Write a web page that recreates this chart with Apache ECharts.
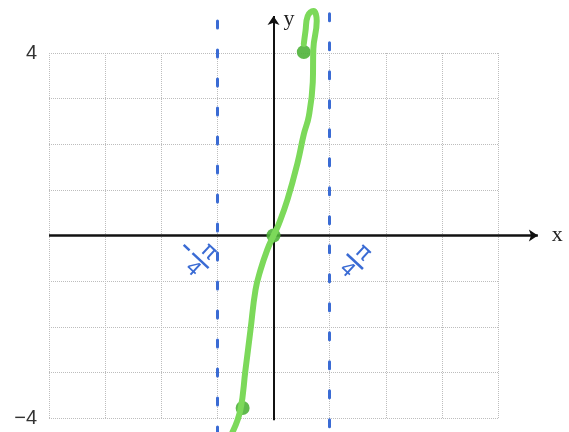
<!DOCTYPE html>
<html style="height: 100%">
<head>
    <meta charset="utf-8">
</head>
<body style="height: 100%; margin: 0; background: #fff">
<div id="container" style="width: 569px; height: 432px"></div>

<script type="text/javascript" src="https://cdn.jsdelivr.net/npm/echarts@6/dist/echarts.min.js"></script>
<script type="text/javascript">
    // x is measured in quarters of pi (one grid column = pi/4), y in plain units
    var curveX = [-0.73, -0.59, -0.50, -0.41, -0.32, -0.23, -0.11, 0, 0.09, 0.25, 0.43, 0.54, 0.63, 0.70, 0.71, 0.77, 0.71, 0.61, 0.57, 0.54];
    var curveY = [-4.31, -3.82, -2.95, -2.07, -1.19, -0.75, -0.31, 0, 0.24, 0.79, 1.60, 2.22, 2.62, 3.36, 4.09, 4.70, 4.92, 4.81, 4.48, 4.20];
    var dotX = [-0.55, 0, 0.54];
    var dotY = [-3.78, 0, 4.02];
    var asymptotes = [-1, 1];
    var yTickLabels = [-4, 4];

    var dom = document.getElementById("container");
    var myChart = echarts.init(dom);

    var curve = curveX.map(function (x, i) { return [x, curveY[i]]; });
    var dots = dotX.map(function (x, i) { return [x, dotY[i]]; });

    var option = {
        animation: false,
        grid: {left: 49, right: 71, top: 53, bottom: 14},
        xAxis: {
            type: 'value', min: -4, max: 4, interval: 1,
            axisLine: {show: false}, axisTick: {show: false}, axisLabel: {show: false},
            splitLine: {lineStyle: {color: '#bdbdbd', type: 'dotted', width: 1}}
        },
        yAxis: {
            type: 'value', min: -4, max: 4, interval: 1,
            axisLine: {show: false, onZero: false}, axisTick: {show: false},
            axisLabel: {
                margin: 12, fontSize: 20, color: '#333', fontFamily: 'Liberation Sans',
                formatter: function (v) {
                    return yTickLabels.indexOf(v) >= 0 ? String(v).replace('-', '\u2212') : '';
                }
            },
            splitLine: {lineStyle: {color: '#bdbdbd', type: 'dotted', width: 1}}
        },
        series: [
            {
                type: 'lines', coordinateSystem: 'cartesian2d', clip: false, silent: true,
                symbol: ['none', 'arrow'], symbolSize: 9,
                lineStyle: {color: '#111', width: 2.5, opacity: 1},
                data: [
                    {coords: [[-4, 0], [4.71, 0]]},
                    {coords: [[0, -4.05], [0, 4.81]], lineStyle: {width: 2}}
                ]
            },
            {
                type: 'lines', coordinateSystem: 'cartesian2d', clip: false, silent: true,
                lineStyle: {color: '#3a6bd4', width: 3, type: [7, 22], opacity: 1, cap: 'round'},
                data: asymptotes.map(function (a) {
                    return {coords: [[a, a < 0 ? 4.7 : 4.86], [a, -4.35]]};
                })
            },
            {
                type: 'line', data: curve, clip: false, smooth: 0.45, showSymbol: false,
                lineStyle: {color: '#7cd95a', width: 6, cap: 'round'}
            },
            {
                type: 'scatter', data: dots, clip: false, symbolSize: 14,
                itemStyle: {color: '#4fb23a', opacity: 0.9}
            }
        ]
    };

    myChart.setOption(option);

    // axis names and the handwritten pi/4 notes, anchored to data coordinates
    function px(x, y) { return myChart.convertToPixel({gridIndex: 0}, [x, y]); }

    function fraction(x, y, negative) {
        var p = px(x, y);
        var children = [
            {type: 'text', x: 0, y: -12, style: {text: '\u03c0', fontSize: 22, fill: '#3a6bd4', align: 'center', verticalAlign: 'middle', fontFamily: 'DejaVu Sans'}},
            {type: 'line', shape: {x1: -11, y1: 0, x2: 11, y2: 0}, style: {stroke: '#3a6bd4', lineWidth: 2.5}},
            {type: 'text', x: 0, y: 12, style: {text: '4', fontSize: 20, fill: '#3a6bd4', align: 'center', verticalAlign: 'middle', fontFamily: 'DejaVu Sans'}}
        ];
        if (negative) {
            children.push({type: 'line', shape: {x1: -23, y1: 0, x2: -15, y2: 0}, style: {stroke: '#3a6bd4', lineWidth: 2.5}});
        }
        return {type: 'group', x: p[0], y: p[1], rotation: -0.75, children: children};
    }

    var xName = px(4.71, 0);
    var yName = px(0, 4.81);
    myChart.setOption({
        graphic: [
            {type: 'text', x: xName[0] + 14, y: xName[1], style: {text: 'x', fontSize: 22, fill: '#222', fontFamily: 'Liberation Serif', verticalAlign: 'middle'}},
            {type: 'text', x: yName[0] + 10, y: yName[1] + 3, style: {text: 'y', fontSize: 22, fill: '#222', fontFamily: 'Liberation Serif', verticalAlign: 'middle'}},
            fraction(-1.3, -0.55, true),
            fraction(1.45, -0.57, false)
        ]
    });
</script>
</body>
</html>
